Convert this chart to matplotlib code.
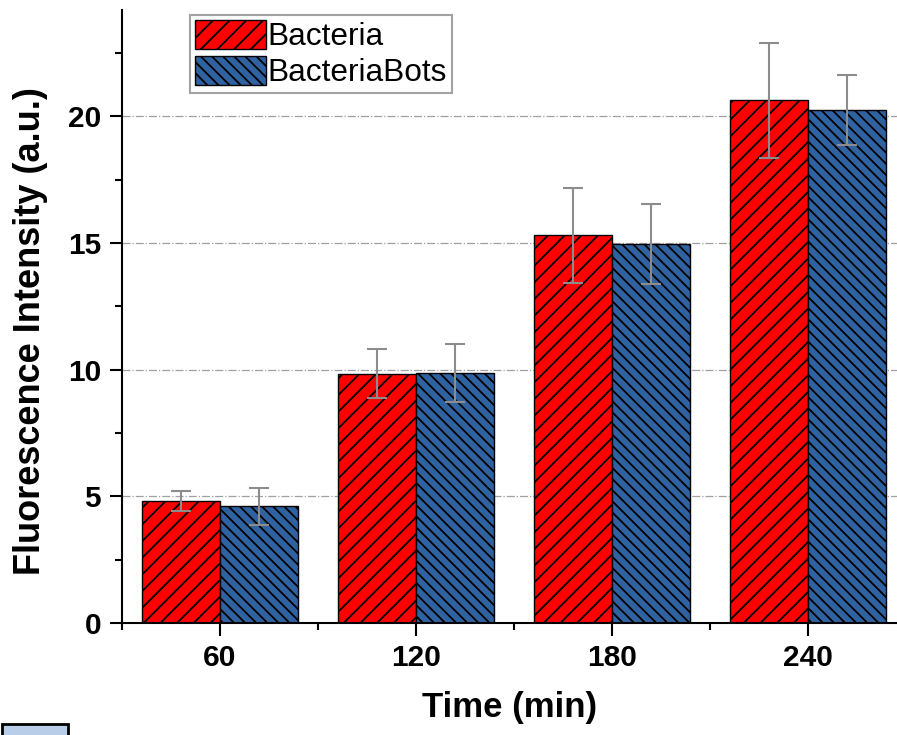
import matplotlib
matplotlib.use("Agg")
import matplotlib.pyplot as plt
from matplotlib.patches import Rectangle
from matplotlib.ticker import MultipleLocator, FixedLocator
import numpy as np

# données
temps = ["60", "120", "180", "240"]
bacteria = [4.83, 9.84, 15.3, 20.63]
bacteria_err = [0.40, 0.97, 1.87, 2.26]
bots = [4.60, 9.88, 14.98, 20.25]
bots_err = [0.72, 1.15, 1.58, 1.38]

plt.rcParams['font.family'] = ['Liberation Sans', 'DejaVu Sans']
plt.rcParams['hatch.linewidth'] = 1.3

fig = plt.figure(figsize=(8.97, 7.35), dpi=100)
ax = fig.add_axes([122 / 897, 1 - 623 / 735, 775 / 897, 613 / 735])

x = np.arange(1, len(temps) + 1)
w = 0.4
ax.bar(x - w / 2, bacteria, w, color='#ff0000', edgecolor='black', linewidth=1,
       hatch='//', label='Bacteria', zorder=2)
ax.bar(x + w / 2, bots, w, color='#2f62a0', edgecolor='black', linewidth=1,
       hatch='\\\\\\', label='BacteriaBots', zorder=2)

# barres d'erreur grises
ax.errorbar(x - w / 2, bacteria, yerr=bacteria_err, fmt='none', ecolor='#8c8c8c',
            elinewidth=1.5, capsize=7, capthick=1.5, zorder=3)
ax.errorbar(x + w / 2, bots, yerr=bots_err, fmt='none', ecolor='#8c8c8c',
            elinewidth=1.5, capsize=7, capthick=1.5, zorder=3)

ax.set_xlim(0.5, 0.5 + 775 / 196)
ax.set_ylim(0, 24.2)

ax.set_xticks(x)
ax.set_xticklabels(temps)
ax.xaxis.set_minor_locator(FixedLocator(np.arange(0.5, 5, 1)))
ax.yaxis.set_major_locator(MultipleLocator(5))
ax.yaxis.set_minor_locator(MultipleLocator(2.5))

ax.tick_params(axis='both', which='major', direction='out', length=9, width=1.5,
               labelsize=21.5, pad=6)
ax.tick_params(axis='both', which='minor', direction='out', length=5, width=1.5)
for lab in ax.get_xticklabels() + ax.get_yticklabels():
    lab.set_fontweight('bold')

ax.spines['top'].set_visible(False)
ax.spines['right'].set_visible(False)
ax.spines['left'].set_linewidth(1.5)
ax.spines['bottom'].set_linewidth(1.5)

# grille en tirets-points
ax.yaxis.grid(True, linestyle='-.', color='#a0a0a0', linewidth=0.9)
ax.set_axisbelow(True)

ax.set_xlabel('Time (min)', fontsize=25, fontweight='bold', labelpad=14)
ax.set_ylabel('Fluorescence Intensity (a.u.)', fontsize=26, fontweight='bold', labelpad=14)
ax.yaxis.label.set_y(0.476)

leg = ax.legend(loc='upper left', bbox_to_anchor=(0.088, 0.992), borderaxespad=0,
                fontsize=22.8, frameon=True, fancybox=False, edgecolor='#8c8c8c',
                handlelength=2.24, handleheight=1.04, handletextpad=0.05,
                labelspacing=0.12, borderpad=0.15)
leg.get_frame().set_linewidth(1.5)

# petit carré bleu en bas à gauche
fig.patches.append(Rectangle((0.002, -0.05), 0.074, 0.065, transform=fig.transFigure,
                             facecolor='#b8cde8', edgecolor='black', linewidth=2,
                             figure=fig))

plt.savefig('out.png', dpi=100)
